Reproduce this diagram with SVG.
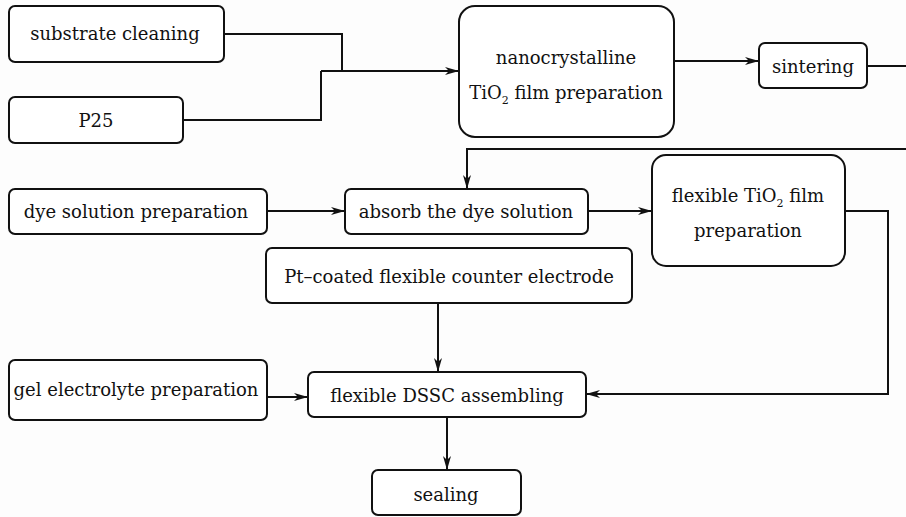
<svg xmlns="http://www.w3.org/2000/svg" width="906" height="517" viewBox="0 0 906 517">
<defs>
<marker id="ah" markerWidth="14" markerHeight="8" refX="13" refY="4" orient="auto" markerUnits="userSpaceOnUse">
<path d="M0,0 L14,4 L0,8 L4,4 Z" fill="#111"/>
</marker>
<style>
.box{fill:#fff;stroke:#111;stroke-width:2}
.t{font-family:"DejaVu Serif","Liberation Serif",serif;font-size:18px;fill:#111;text-anchor:middle}
.c{fill:none;stroke:#111;stroke-width:2}
.a{fill:none;stroke:#111;stroke-width:2;marker-end:url(#ah)}
</style>
</defs>
<rect width="906" height="517" fill="#fdfdfd"/>
<g id="connectors">
<path class="c" d="M224,34 H342 V71"/>
<path class="c" d="M183,120 H321 V71"/>
<path class="a" d="M321,71 H458"/>
<path class="a" d="M674,61 H758"/>
<path class="c" d="M867,66 H906"/>
<path class="a" d="M906,149 H467 V188"/>
<path class="a" d="M267,211 H344"/>
<path class="a" d="M588,211 H651"/>
<path class="a" d="M845,211 H888 V394 H587"/>
<path class="a" d="M438,303 V371"/>
<path class="a" d="M267,397 H307"/>
<path class="a" d="M447,417 V469"/>
</g>
<g id="substrate-cleaning">
<rect class="box" x="9" y="6" width="215" height="56" rx="6"/>
<text class="t" x="115" y="40">substrate cleaning</text>
</g>
<g id="p25">
<rect class="box" x="9" y="97" width="174" height="46" rx="6"/>
<text class="t" x="96" y="127">P25</text>
</g>
<g id="nanocrystalline">
<rect class="box" x="459" y="6" width="215" height="131" rx="16"/>
<text class="t" x="566" y="64">nanocrystalline</text>
<text class="t" x="566" y="99">TiO<tspan font-size="11" dy="5">2</tspan><tspan dy="-5"> film preparation</tspan></text>
</g>
<g id="sintering">
<rect class="box" x="759" y="43" width="108" height="45" rx="6"/>
<text class="t" x="813" y="73">sintering</text>
</g>
<g id="dye-solution">
<rect class="box" x="9" y="189" width="258" height="45" rx="6"/>
<text class="t" x="136" y="218">dye solution preparation</text>
</g>
<g id="absorb">
<rect class="box" x="345" y="189" width="243" height="45" rx="6"/>
<text class="t" x="466" y="218">absorb the dye solution</text>
</g>
<g id="flexible-tio2">
<rect class="box" x="652" y="155" width="193" height="111" rx="14"/>
<text class="t" x="748" y="202">flexible TiO<tspan font-size="11" dy="5">2</tspan><tspan dy="-5"> film</tspan></text>
<text class="t" x="748" y="237">preparation</text>
</g>
<g id="pt-coated">
<rect class="box" x="266" y="248" width="366" height="55" rx="6"/>
<text class="t" x="449" y="283">Pt–coated flexible counter electrode</text>
</g>
<g id="gel">
<rect class="box" x="9" y="360" width="258" height="60" rx="6"/>
<text class="t" x="136" y="396">gel electrolyte preparation</text>
</g>
<g id="assembling">
<rect class="box" x="308" y="372" width="278" height="45" rx="6"/>
<text class="t" x="447" y="402">flexible DSSC assembling</text>
</g>
<g id="sealing">
<rect class="box" x="372" y="470" width="149" height="45" rx="6"/>
<text class="t" x="446" y="501">sealing</text>
</g>
</svg>
